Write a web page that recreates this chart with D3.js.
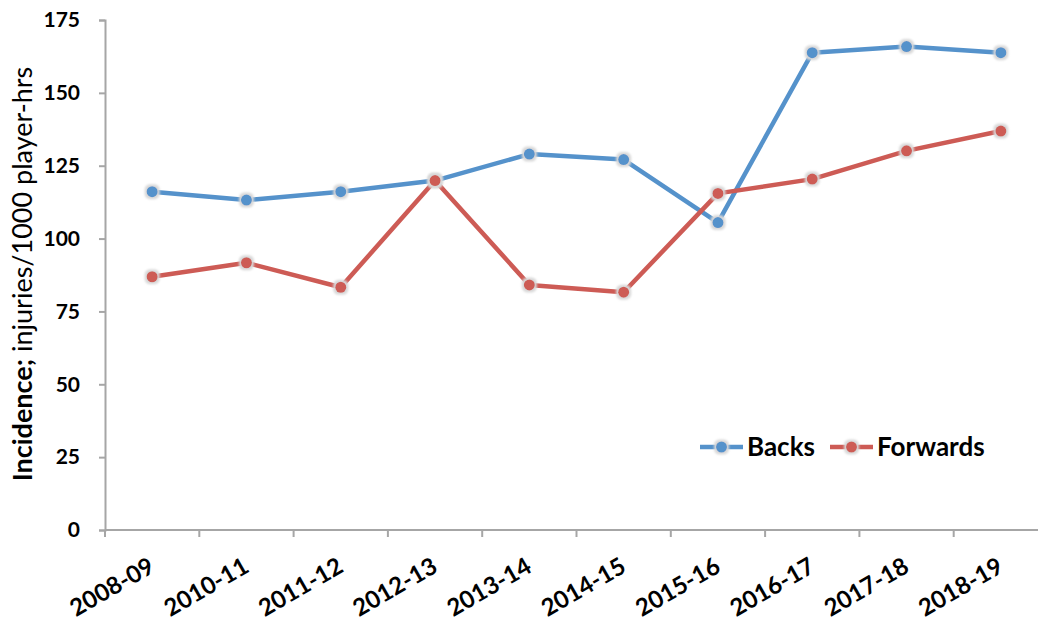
<!DOCTYPE html>
<html>
<head>
<meta charset="utf-8">
<script src="https://cdn.jsdelivr.net/npm/d3@7"></script>
<style>
  html, body { margin: 0; padding: 0; background: #fff; }
  svg { display: block; }
  text { font-family: Lato, "Open Sans", sans-serif; fill: #000; }
</style>
</head>
<body>
<svg id="chart" width="1038" height="623"></svg>
<script>
// Season labels along the x axis
const seasons = ["2008-09", "2010-11", "2011-12", "2012-13", "2013-14",
                 "2014-15", "2015-16", "2016-17", "2017-18", "2018-19"];
// Injury incidence (injuries per 1000 player-hours)
const backs    = [116.1, 113.2, 116.1, 119.9, 129.0, 127.1, 105.5, 163.8, 165.9, 163.8];
const forwards = [86.9, 91.7, 83.3, 119.9, 84.1, 81.6, 115.5, 120.4, 130.1, 136.9];
// Y axis tick values
const yTicks = [0, 25, 50, 75, 100, 125, 150, 175];

const seriesList = [
  { name: "Backs",    values: backs,    color: "#5592CB" },
  { name: "Forwards", values: forwards, color: "#CD5B55" }
];

const svg = d3.select("#chart");
const plotLeft = 105, plotRight = 1048, plotTop = 20, plotBottom = 530;

const x = d3.scaleBand().domain(seasons).range([plotLeft, plotRight]).paddingInner(0).paddingOuter(0);
const y = d3.scaleLinear().domain([0, 175]).range([plotBottom, plotTop]);

// soft light halo around the markers
const defs = svg.append("defs");
const glow = defs.append("filter").attr("id", "halo")
  .attr("x", "-60%").attr("y", "-60%").attr("width", "220%").attr("height", "220%");
glow.append("feMorphology").attr("in", "SourceAlpha").attr("operator", "dilate").attr("radius", 1.5).attr("result", "d");
glow.append("feGaussianBlur").attr("in", "d").attr("stdDeviation", 0.9).attr("result", "b");
glow.append("feFlood").attr("flood-color", "#d8d8d8");
glow.append("feComposite").attr("in2", "b").attr("operator", "in").attr("result", "g");
const merge = glow.append("feMerge");
merge.append("feMergeNode").attr("in", "g");
merge.append("feMergeNode").attr("in", "SourceGraphic");

// Y axis
const yAxis = svg.append("g")
  .attr("transform", `translate(${plotLeft},0)`)
  .call(d3.axisLeft(y).tickValues(yTicks).tickSize(6).tickPadding(19).tickFormat(d3.format("d")));
yAxis.select(".domain").attr("stroke", "#A6A6A6").attr("stroke-width", 2);
yAxis.selectAll(".tick line").attr("stroke", "#A6A6A6").attr("stroke-width", 2);
yAxis.selectAll(".tick text")
  .attr("font-size", 21).attr("font-weight", "bold").attr("font-family", "Lato, sans-serif").attr("fill", "#000");

// X axis with ticks on the band edges
const xAxisG = svg.append("g").attr("transform", `translate(0,${plotBottom})`);
xAxisG.append("line").attr("x1", plotLeft).attr("x2", plotRight).attr("y1", 0).attr("y2", 0)
  .attr("stroke", "#A6A6A6").attr("stroke-width", 2);
xAxisG.selectAll("line.tk").data(seasons).join("line").attr("class", "tk")
  .attr("x1", d => x(d)).attr("x2", d => x(d)).attr("y1", 0).attr("y2", 7)
  .attr("stroke", "#A6A6A6").attr("stroke-width", 2);
xAxisG.selectAll("text.lbl").data(seasons).join("text").attr("class", "lbl")
  .attr("transform", d => `translate(${x(d) + x.bandwidth() / 2 + 4},${41}) rotate(-30)`)
  .attr("text-anchor", "end")
  .attr("font-size", 24).attr("font-weight", "bold")
  .text(d => d);

// Y axis title
svg.append("text")
  .attr("transform", `translate(32,${(plotTop + plotBottom) / 2 - 1}) rotate(-90)`)
  .attr("text-anchor", "middle").attr("font-size", 27)
  .call(t => {
    t.append("tspan").attr("font-weight", "bold").text("Incidence;");
    t.append("tspan").text(" injuries/1000 player-hrs");
  });

// Series lines and markers
const line = d3.line().x((d, i) => x(seasons[i]) + x.bandwidth() / 2).y(d => y(d));
seriesList.forEach(s => {
  svg.append("path").datum(s.values)
    .attr("d", line).attr("fill", "none")
    .attr("stroke", s.color).attr("stroke-width", 4.5).attr("stroke-linejoin", "round");
});
seriesList.forEach(s => {
  svg.append("g").selectAll("circle").data(s.values).join("circle")
    .attr("cx", (d, i) => x(seasons[i]) + x.bandwidth() / 2)
    .attr("cy", d => y(d)).attr("r", 5.5)
    .attr("fill", s.color).attr("filter", "url(#halo)");
});

// Legend
const legendItems = [
  { s: seriesList[0], x0: 700 },
  { s: seriesList[1], x0: 830 }
];
const ly = 447;
legendItems.forEach(({ s, x0 }) => {
  const g = svg.append("g");
  g.append("line").attr("x1", x0).attr("x2", x0 + 43).attr("y1", ly).attr("y2", ly)
    .attr("stroke", s.color).attr("stroke-width", 4.5);
  g.append("circle").attr("cx", x0 + 21.5).attr("cy", ly).attr("r", 5.5)
    .attr("fill", s.color).attr("filter", "url(#halo)");
  g.append("text").attr("x", x0 + 47).attr("y", ly + 9)
    .attr("font-size", 26).attr("font-weight", "bold").text(s.name);
});
</script>
</body>
</html>
